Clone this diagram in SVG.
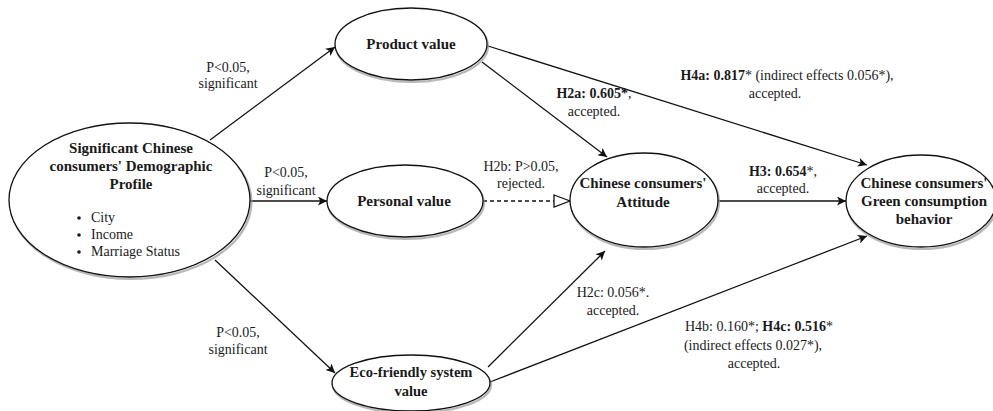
<svg xmlns="http://www.w3.org/2000/svg" width="993" height="411" viewBox="0 0 993 411">
  <style>
    .node { fill: #ffffff; stroke: #111111; stroke-width: 1.3; }
    .shadow { fill: none; stroke: #9a9a9a; stroke-width: 2.2; opacity: 0.7; }
    .ntext { font-family: "Liberation Serif", "Times New Roman", serif; font-weight: bold; font-size: 15px; fill: #1a1a1a; text-anchor: middle; }
    .btext { font-family: "Liberation Serif", "Times New Roman", serif; font-size: 14px; fill: #1a1a1a; }
    .label { font-family: "Liberation Serif", "Times New Roman", serif; font-size: 14px; fill: #1a1a1a; text-anchor: middle; }
    .b { font-weight: bold; }
    .edge { stroke: #111111; stroke-width: 1.3; fill: none; }
    .dashed { stroke-dasharray: 4 3; }
  </style>
  <defs>
    <marker id="arrow" viewBox="0 0 10 10" refX="10" refY="5" markerWidth="12" markerHeight="9" markerUnits="userSpaceOnUse" orient="auto">
      <path d="M0,0 L10,5 L0,10 L2.5,5 Z" fill="#111111"/>
    </marker>
    <marker id="hollow" viewBox="0 0 18 14" refX="17" refY="7" markerWidth="18" markerHeight="14" markerUnits="userSpaceOnUse" orient="auto">
      <path d="M1,1 L17,7 L1,13 Z" fill="#ffffff" stroke="#111111" stroke-width="1.3"/>
    </marker>
  </defs>

  <rect width="993" height="411" fill="#ffffff"/>

  <!-- connectors -->
  <g id="connectors">
    <line class="edge" x1="210" y1="140" x2="335" y2="47" marker-end="url(#arrow)"/>
    <line class="edge" x1="250" y1="201" x2="327" y2="201" marker-end="url(#arrow)"/>
    <line class="edge" x1="215" y1="260" x2="335" y2="373" marker-end="url(#arrow)"/>
    <line class="edge" x1="482" y1="62" x2="607" y2="157" marker-end="url(#arrow)"/>
    <line class="edge" x1="488" y1="46" x2="867" y2="165" marker-end="url(#arrow)"/>
    <line class="edge dashed" x1="483" y1="201" x2="570" y2="201" marker-end="url(#hollow)"/>
    <line class="edge" x1="718" y1="201" x2="846" y2="201" marker-end="url(#arrow)"/>
    <line class="edge" x1="488" y1="367" x2="605" y2="251" marker-end="url(#arrow)"/>
    <line class="edge" x1="490" y1="382" x2="867" y2="236" marker-end="url(#arrow)"/>

    <!-- connector labels -->
    <text class="label" x="228" y="72">P&lt;0.05,</text>
    <text class="label" x="228" y="88">significant</text>
    <text class="label" x="286" y="177">P&lt;0.05,</text>
    <text class="label" x="286" y="195">significant</text>
    <text class="label" x="238" y="337">P&lt;0.05,</text>
    <text class="label" x="238" y="354">significant</text>

    <text class="label" x="594" y="98"><tspan class="b">H2a: 0.605*</tspan>,</text>
    <text class="label" x="594" y="116">accepted.</text>

    <text class="label" x="521" y="171">H2b: P&gt;0.05,</text>
    <text class="label" x="521" y="188">rejected.</text>

    <text class="label" x="787" y="80"><tspan class="b">H4a: 0.817</tspan>* (indirect effects 0.056*),</text>
    <text class="label" x="775" y="98">accepted.</text>

    <text class="label" x="783" y="176"><tspan class="b">H3: 0.654</tspan>*,</text>
    <text class="label" x="783" y="193">accepted.</text>

    <text class="label" x="613" y="297">H2c: 0.056*.</text>
    <text class="label" x="613" y="315">accepted.</text>

    <text class="label" x="759" y="331">H4b: 0.160*; <tspan class="b">H4c: 0.516</tspan>*</text>
    <text class="label" x="753" y="350">(indirect effects 0.027*),</text>
    <text class="label" x="754" y="368">accepted.</text>
  </g>

  <!-- demographic profile -->
  <g id="profile">
    <ellipse class="shadow" cx="131" cy="202" rx="120.5" ry="77"/>
    <ellipse class="node" cx="129.5" cy="200" rx="120.5" ry="77"/>
    <text class="ntext" x="131" y="153">Significant Chinese</text>
    <text class="ntext" x="131" y="171">consumers' Demographic</text>
    <text class="ntext" x="131" y="189">Profile</text>
    <circle cx="79" cy="218" r="1.8" fill="#1a1a1a"/>
    <circle cx="79" cy="235" r="1.8" fill="#1a1a1a"/>
    <circle cx="79" cy="252" r="1.8" fill="#1a1a1a"/>
    <text class="btext" x="91" y="222">City</text>
    <text class="btext" x="91" y="239">Income</text>
    <text class="btext" x="91" y="256">Marriage Status</text>
  </g>

  <g id="product-value">
    <ellipse class="shadow" cx="412" cy="46" rx="76" ry="36"/>
    <ellipse class="node" cx="411" cy="44" rx="76" ry="36"/>
    <text class="ntext" x="411" y="49">Product value</text>
  </g>

  <g id="personal-value">
    <ellipse class="shadow" cx="406" cy="203" rx="78" ry="36"/>
    <ellipse class="node" cx="405" cy="201" rx="78" ry="36"/>
    <text class="ntext" x="404" y="206">Personal value</text>
  </g>

  <g id="eco-value">
    <ellipse class="shadow" cx="412" cy="385" rx="79" ry="28"/>
    <ellipse class="node" cx="411" cy="383" rx="79" ry="28"/>
    <text class="ntext" x="411" y="377" style="font-size:14.5px">Eco-friendly system</text>
    <text class="ntext" x="411" y="396" style="font-size:14.5px">value</text>
  </g>

  <g id="attitude">
    <ellipse class="shadow" cx="645" cy="202" rx="74" ry="47"/>
    <ellipse class="node" cx="644" cy="200" rx="74" ry="47"/>
    <text class="ntext" x="643" y="188">Chinese consumers'</text>
    <text class="ntext" x="643" y="207">Attitude</text>
  </g>

  <g id="green-behavior">
    <ellipse class="shadow" cx="922" cy="203" rx="75" ry="46"/>
    <ellipse class="node" cx="921" cy="201" rx="75" ry="46"/>
    <text class="ntext" x="924" y="188">Chinese consumers'</text>
    <text class="ntext" x="924" y="206">Green consumption</text>
    <text class="ntext" x="924" y="224">behavior</text>
  </g>
</svg>
